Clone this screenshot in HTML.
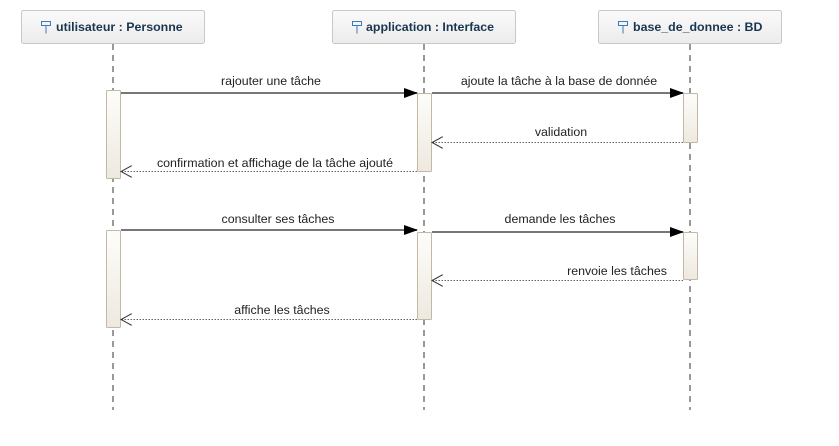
<!DOCTYPE html><html><head><meta charset="utf-8"><style>body{margin:0;background:#fff}svg{display:block}text{font-family:"Liberation Sans",sans-serif;font-size:12.4px;fill:#222}</style></head><body>
<svg width="839" height="446" viewBox="0 0 839 446" xmlns="http://www.w3.org/2000/svg">
<defs>
<linearGradient id="h" x1="0" y1="0" x2="0" y2="1"><stop offset="0" stop-color="#fafafa"/><stop offset="1" stop-color="#ececec"/></linearGradient>
<linearGradient id="a" x1="0" y1="0" x2="0" y2="1"><stop offset="0" stop-color="#fdfdfb"/><stop offset="1" stop-color="#eee9df"/></linearGradient>
<marker id="f" markerWidth="14" markerHeight="10" refX="13" refY="5" orient="auto" markerUnits="userSpaceOnUse"><path d="M0,0L14,5L0,10z" fill="#000"/></marker>
<marker id="o" markerWidth="12" markerHeight="12" refX="11" refY="6" orient="auto" markerUnits="userSpaceOnUse"><path d="M0,0L11,6L0,12" fill="none" stroke="#333"/></marker>
</defs>
<g stroke="#999" stroke-width="2" stroke-dasharray="6,5"><line x1="113" y1="44" x2="113" y2="410"/><line x1="424" y1="44" x2="424" y2="410"/><line x1="690" y1="44" x2="690" y2="410"/></g>
<g stroke="#c8c8c8" fill="url(#h)"><rect x="21.5" y="10.5" width="183" height="33" rx="2"/><rect x="332.5" y="10.5" width="183" height="33" rx="2"/><rect x="598.5" y="10.5" width="183" height="33" rx="2"/></g>
<g><text x="56" y="31" style="fill:#1a3550;font-weight:bold">utilisateur : Personne</text><text x="366" y="31" style="fill:#1a3550;font-weight:bold">application : Interface</text><text x="633" y="31" style="fill:#1a3550;font-weight:bold">base_de_donnee : BD</text></g>
<g stroke="#3a7ac0" fill="none"><path d="M41.5,21.5h9v4h-9z M46,25.5v8"/><path d="M352.5,21.5h9v4h-9z M357,25.5v8"/><path d="M618.5,21.5h9v4h-9z M623,25.5v8"/></g>
<g stroke="#c2b8a3" fill="url(#a)"><rect x="106.5" y="90.5" width="14" height="88" rx="1"/><rect x="106.5" y="230.5" width="14" height="97" rx="1"/><rect x="417.5" y="93.5" width="14" height="78" rx="1"/><rect x="417.5" y="232.5" width="14" height="87" rx="1"/><rect x="683.5" y="93.5" width="14" height="49" rx="1"/><rect x="683.5" y="232.5" width="14" height="47" rx="1"/></g>
<g stroke="#777" stroke-width="2"><line x1="121" y1="93" x2="417" y2="93" marker-end="url(#f)"/><line x1="432" y1="93" x2="683" y2="93" marker-end="url(#f)"/><line x1="121" y1="230" x2="417" y2="230" marker-end="url(#f)"/><line x1="432" y1="232" x2="683" y2="232" marker-end="url(#f)"/></g>
<g stroke="#666" stroke-width="1" stroke-dasharray="1.5,1.5"><line x1="683" y1="142.5" x2="432" y2="142.5" marker-end="url(#o)"/><line x1="417" y1="171.5" x2="121" y2="171.5" marker-end="url(#o)"/><line x1="683" y1="280.5" x2="432" y2="280.5" marker-end="url(#o)"/><line x1="417" y1="319.5" x2="121" y2="319.5" marker-end="url(#o)"/></g>
<g text-anchor="middle"><text x="271" y="85">rajouter une tâche</text><text x="559" y="85">ajoute la tâche à la base de donnée</text><text x="561" y="136">validation</text><text x="275" y="167">confirmation et affichage de la tâche ajouté</text><text x="278" y="223">consulter ses tâches</text><text x="560" y="223">demande les tâches</text><text x="617" y="275">renvoie les tâches</text><text x="282" y="314">affiche les tâches</text></g>
</svg></body></html>
